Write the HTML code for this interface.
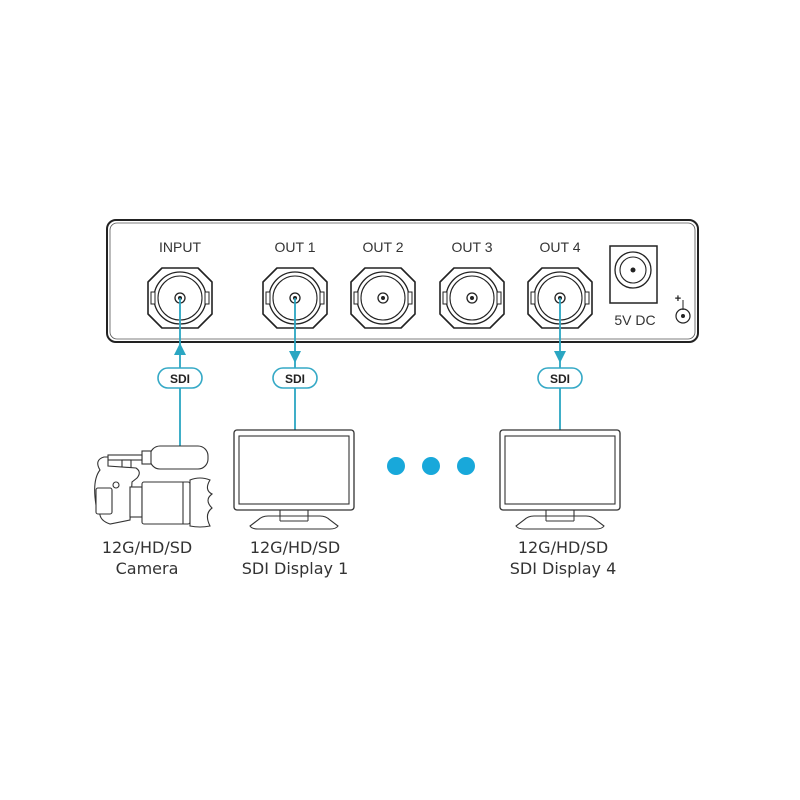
<!DOCTYPE html>
<html><head><meta charset="utf-8"><style>
html,body{margin:0;padding:0;background:#fff;}
svg{display:block;}
text{font-family:"Liberation Sans",sans-serif;}
</style></head><body>
<svg width="800" height="800" viewBox="0 0 800 800" xmlns="http://www.w3.org/2000/svg">
<defs>
<g id="bnc">
  <path d="M-18,-30 H18 L32,-16 V16 L18,30 H-18 L-32,16 V-16 Z" fill="#fff" stroke="#222" stroke-width="1.6" stroke-linejoin="round"/>
  <circle r="26" fill="none" stroke="#222" stroke-width="1.3"/>
  <circle r="22" fill="none" stroke="#222" stroke-width="1.1"/>
  <rect x="-29" y="-6" width="4" height="12" fill="#fff" stroke="#222" stroke-width="1"/>
  <rect x="25" y="-6" width="4" height="12" fill="#fff" stroke="#222" stroke-width="1"/>
  <circle r="5" fill="none" stroke="#222" stroke-width="1.3"/>
  <circle r="2" fill="#222"/>
</g>
<g id="mon">
  <rect x="0" y="0" width="120" height="80" rx="3" fill="#fff" stroke="#333" stroke-width="1.3"/>
  <rect x="5" y="6" width="110" height="68" fill="#fff" stroke="#333" stroke-width="1.1"/>
  <path d="M46,80 V91 H74 V80" fill="none" stroke="#333" stroke-width="1.1"/>
  <path d="M34,86 H86 Q92,86 96,90 L104,96 Q102,99 96,99 H24 Q18,99 16,96 L24,90 Q28,86 34,86 Z" fill="#fff" stroke="#333" stroke-width="1.1"/>
  <line x1="46" y1="86" x2="46" y2="91" stroke="#333"/>
  <line x1="46" y1="91" x2="74" y2="91" stroke="#333"/>
  <line x1="74" y1="86" x2="74" y2="91" stroke="#333"/>
</g>
<g id="pill">
  <rect x="-22" y="-10" width="44" height="20" rx="10" fill="#fff" stroke="#35a9c6" stroke-width="1.6"/>
  <text x="0" y="5" font-size="12" font-weight="bold" text-anchor="middle" fill="#222">SDI</text>
</g>
</defs>

<rect x="107" y="220" width="591" height="122" rx="9" fill="#fff" stroke="#222" stroke-width="2"/>
<rect x="110" y="223" width="585" height="116" rx="7" fill="none" stroke="#555" stroke-width="0.8"/>

<g font-size="14" fill="#333" text-anchor="middle">
<text x="180" y="252">INPUT</text>
<text x="295" y="252">OUT 1</text>
<text x="383" y="252">OUT 2</text>
<text x="472" y="252">OUT 3</text>
<text x="560" y="252">OUT 4</text>
<text x="635" y="325">5V DC</text>
</g>

<use href="#bnc" x="180" y="298"/>
<use href="#bnc" x="295" y="298"/>
<use href="#bnc" x="383" y="298"/>
<use href="#bnc" x="472" y="298"/>
<use href="#bnc" x="560" y="298"/>

<rect x="610" y="246" width="47" height="57" fill="#fff" stroke="#222" stroke-width="1.5"/>
<circle cx="633" cy="270" r="18" fill="none" stroke="#222" stroke-width="1.3"/>
<circle cx="633" cy="270" r="13" fill="none" stroke="#222" stroke-width="1.1"/>
<circle cx="633" cy="270" r="2.5" fill="#222"/>
<text x="678" y="302" font-size="11" font-weight="bold" fill="#222" text-anchor="middle">+</text>
<line x1="683" y1="300" x2="683" y2="310" stroke="#222" stroke-width="1"/>
<circle cx="683" cy="316" r="7" fill="none" stroke="#222" stroke-width="1.2"/>
<circle cx="683" cy="316" r="2" fill="#222"/>

<g stroke="#2aa6c2" stroke-width="1.8" fill="none">
<line x1="180" y1="298" x2="180" y2="450"/>
<line x1="295" y1="298" x2="295" y2="430"/>
<line x1="560" y1="298" x2="560" y2="430"/>
</g>
<g fill="#2aa6c2">
<path d="M174,355 L180,343 L186,355 Z"/>
<path d="M289,351 L295,363 L301,351 Z"/>
<path d="M554,351 L560,363 L566,351 Z"/>
</g>
<use href="#pill" x="180" y="378"/>
<use href="#pill" x="295" y="378"/>
<use href="#pill" x="560" y="378"/>

<use href="#mon" x="234" y="430"/>
<use href="#mon" x="500" y="430"/>

<circle cx="396" cy="466" r="9" fill="#18a8da"/>
<circle cx="431" cy="466" r="9" fill="#18a8da"/>
<circle cx="466" cy="466" r="9" fill="#18a8da"/>

<g fill="#fff" stroke="#333" stroke-width="1.1">
<rect x="150" y="446" width="58" height="23" rx="10"/>
<rect x="142" y="451" width="9" height="13"/>
<rect x="108" y="455" width="34" height="5"/>
<rect x="122" y="460" width="9" height="11"/>
<path d="M100,470 Q94,460 104,457 L108,457 L108,466 L136,468 Q142,472 137,478 L132,482 L130,520 L110,524 Q98,520 100,510 L96,505 Q92,480 100,470 Z"/>
<rect x="96" y="488" width="16" height="26" rx="2"/>
<circle cx="116" cy="485" r="3"/>
<rect x="130" y="487" width="12" height="30"/>
<rect x="142" y="482" width="48" height="42" rx="2"/>
<line x1="183" y1="482" x2="183" y2="524"/>
<path d="M190,480 Q200,476 210,480 Q204,490 212,494 Q204,500 212,508 Q204,514 210,526 Q200,528 190,526 Z"/>
</g>

<g font-size="16" fill="#333" text-anchor="middle">
<text x="147" y="553" style="font-family:'DejaVu Sans',sans-serif">12G/HD/SD</text>
<text x="147" y="574" style="font-family:'DejaVu Sans',sans-serif">Camera</text>
<text x="295" y="553" style="font-family:'DejaVu Sans',sans-serif">12G/HD/SD</text>
<text x="295" y="574" style="font-family:'DejaVu Sans',sans-serif">SDI Display 1</text>
<text x="563" y="553" style="font-family:'DejaVu Sans',sans-serif">12G/HD/SD</text>
<text x="563" y="574" style="font-family:'DejaVu Sans',sans-serif">SDI Display 4</text>
</g>
</svg>
</body></html>
